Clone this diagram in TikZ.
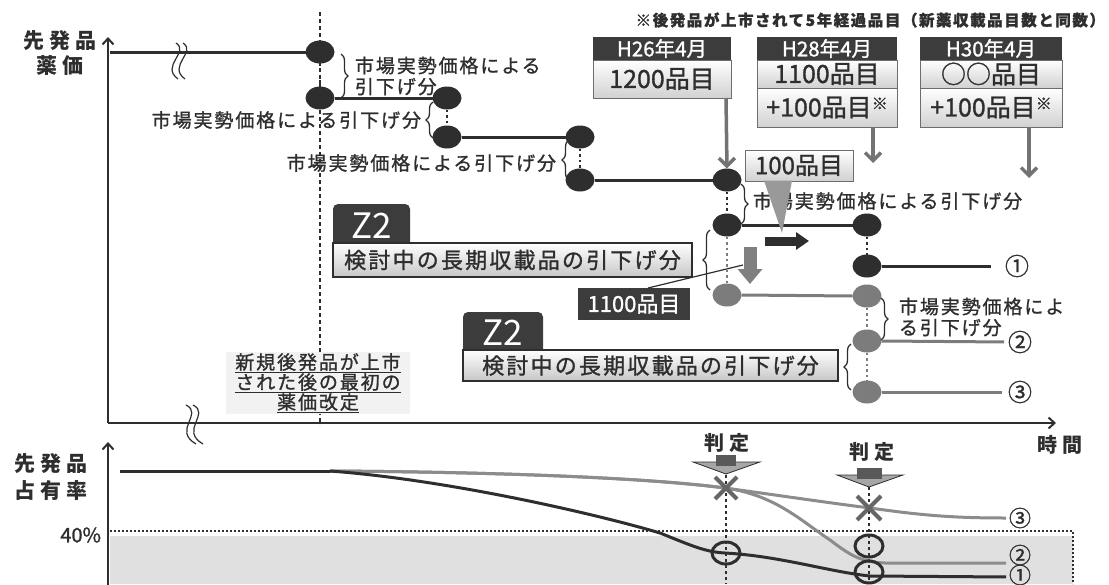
\documentclass[tikz,border=0pt]{standalone}
\usepackage{fontspec}
\setmainfont{Noto Sans CJK JP}
\newfontfamily\spc{Noto Sans CJK JP}[LetterSpace=25]
\newfontfamily\lsp{Noto Sans CJK JP}[LetterSpace=10,FakeBold=1.2]
\newfontfamily\fb{Noto Sans CJK JP}[FakeBold=1.2]
\usetikzlibrary{arrows.meta,decorations.pathreplacing,shapes.geometric,calc}
\definecolor{dk}{HTML}{2E2E2E}
\definecolor{gr}{HTML}{7C7C7C}
\definecolor{hd}{HTML}{3C3C3C}
\newcommand\fsz[1]{\fontsize{#1}{#1}\selectfont}
\begin{document}
\begin{tikzpicture}[x=1pt,y=-1pt,
 every node/.style={inner sep=0pt,outer sep=0pt,text=dk},
 ddot/.style={ellipse,minimum width=29pt,minimum height=23pt,fill=dk},
 gdot/.style={ellipse,minimum width=29pt,minimum height=23pt,fill=gr},
 pline/.style={line width=3pt,draw=dk},
 gline/.style={line width=3pt,draw=gr},
 vdots/.style={line width=2.5pt,draw=dk,dash pattern=on 2.5pt off 3pt},
 gvdots/.style={line width=2.5pt,draw=gr,dash pattern=on 2.5pt off 3pt},
 brc/.style={decorate,decoration={brace,amplitude=7pt},line width=1.3pt,draw=dk},
 lbl/.style={font=\lsp\fontsize{19}{21}\selectfont},
 hdr/.style={fill=hd,text=white,font=\fb\fsz{20.5},minimum height=23pt},
 bbox/.style={draw=dk!70,line width=0.8pt,top color=white,bottom color=black!18,font=\fb\fsz{25}},
 garrow/.style={line width=3.5pt,draw=black!55,-{Straight Barb[length=8pt,width=16pt]}},
 ztab/.style={fill=hd,text=white,rounded corners=5pt,font=\fsz{35}},
 zbox/.style={draw=dk,line width=1.2pt,top color=white,bottom color=black!22,font=\lsp\fsz{22}},
 ax/.style={line width=2pt,draw=dk,-{Straight Barb[length=6pt,width=11pt]}},
 brk/.style={line width=1.2pt,draw=dk},
 circ/.style={font=\fb\fsz{24}},
 judge/.style={font=\spc\bfseries\fsz{20}},
]
\useasboundingbox (0,0) rectangle (1109,584);

% ---------- lower chart background ----------
\fill[black!12] (110,536) rectangle (1073,584);
\draw[dk,line width=2pt,dash pattern=on 2pt off 2pt] (110,531) -- (1073,531) -- (1073,584);

% ---------- axes ----------
\coordinate (O) at (108,423);
\coordinate (Ytop) at (108,37);
\coordinate (Xend) at (1056,423);
\coordinate (O2) at (108,586);
\coordinate (Y2top) at (108,442);
\draw[ax] (O) -- (Ytop);
\draw[ax] (O) -- (Xend);
\draw[ax] (O2) -- (Y2top);

% main dashed vertical
\coordinate (v0) at (320,12);
\coordinate (v1) at (320,425);
\draw[dk,line width=1.5pt,dash pattern=on 4pt off 3pt] (v0) -- (v1);

% axis labels
\node[font=\spc\bfseries\fontsize{21}{25}\selectfont,align=center] (ylab1) at (60,53) {先発品\\薬価};
\node[font=\spc\bfseries\fontsize{21}{27}\selectfont,align=center] (ylab2) at (51,477) {先発品\\占有率};
\node[font=\spc\bfseries\fsz{20}] (tlab) at (1060,445) {時間};
\node[font=\fb\fsz{20},anchor=east] (p40) at (101,535) {40\%};

% break marks
\draw[brk] (176,43) .. controls (190,52) and (160,66) .. (178,79);
\draw[brk] (183,43) .. controls (197,52) and (167,66) .. (185,79);
\draw[brk] (186,405) .. controls (204,414) and (172,430) .. (196,444);
\draw[brk] (193,405) .. controls (211,414) and (179,430) .. (203,444);

% ---------- price dots ----------
\node[ddot] (d1) at (320,52) {};
\node[ddot] (d2) at (320,98) {};
\node[ddot] (d3) at (447,98) {};
\node[ddot] (d4) at (447,137) {};
\node[ddot] (d5) at (580,137) {};
\node[ddot] (d6) at (580,180) {};
\node[ddot] (d7) at (727,180) {};
\node[ddot] (d8) at (727,225) {};
\node[ddot] (d9) at (867,225) {};
\node[ddot] (d10) at (867,266) {};
\node[gdot] (d11) at (727,295) {};
\node[gdot] (d12) at (867,296) {};
\node[gdot] (d13) at (867,341) {};
\node[gdot] (d14) at (867,392) {};

\node[circ] (c1t) at (1017,266) {①};
\node[circ] (c2t) at (1020,342) {②};
\node[circ] (c3t) at (1020,392) {③};

\coordinate (t0) at (110,52);
\draw[pline] (t0) -- (d1.west);
\draw[vdots] (d1.south) -- (d2.north);
\draw[pline] (d2.east) -- (d3.west);
\draw[vdots] (d3.south) -- (d4.north);
\draw[pline] (d4.east) -- (d5.west);
\draw[vdots] (d5.south) -- (d6.north);
\draw[pline] (d6.east) -- (d7.west);
\draw[vdots] (d7.south) -- (d8.north);
\draw[pline] (d8.east) -- (d9.west);
\draw[vdots] (d9.south) -- (d10.north);
\draw[pline,shorten >=14pt] (d10.east) -- (c1t.west);
\draw[gvdots] (d8.south) -- (d11.north);
\draw[gline] (d11.east) -- (d12.west);
\draw[gvdots] (d12.south) -- (d13.north);
\draw[gvdots] (d13.south) -- (d14.north);
\draw[gline,shorten >=4pt] (d13.east) -- (c2t.west);
\draw[gline,shorten >=6pt] (d14.east) -- (c3t.west);

% braces and labels
\draw[brc] (341,54) -- (341,98);
\node[lbl,anchor=west,align=left] (m1) at (355,76) {市場実勢価格による\\引下げ分};
\draw[brc] (433,138) -- (433,102);
\node[lbl,anchor=east] (m2) at (421,120) {市場実勢価格による引下げ分};
\draw[brc] (569,180) -- (569,140);
\node[lbl,anchor=east] (m3) at (556,163) {市場実勢価格による引下げ分};
\draw[brc] (741,184) -- (741,224);
\node[lbl,anchor=west] (m4) at (753,201) {市場実勢価格による引下げ分};
\draw[brc] (710,290) -- (710,230);
\draw[brc] (881,298) -- (881,340);
\node[lbl,anchor=west,align=left] (m5) at (899,317) {市場実勢価格によ\\る引下げ分};
\draw[brc] (851,390) -- (851,344);

% ---------- top boxes ----------
\node[font=\lsp\bfseries\fsz{15.5},anchor=east] (note) at (1105,20) {※後発品が上市されて5年経過品目（新薬収載品目数と同数）};
\node[hdr,minimum width=138pt] (h26) at (662,48.5) {H26年4月};
\node[bbox,minimum width=138pt,minimum height=38pt] (b26) at (662,79) {1200品目};
\node[hdr,minimum width=140pt] (h28) at (827,48.5) {H28年4月};
\node[bbox,minimum width=140pt,minimum height=28pt] (b28a) at (827,74) {1100品目};
\node[bbox,minimum width=140pt,minimum height=39pt] (b28b) at (827,107.5) {+100品目\raisebox{7pt}{\fsz{16}※}};
\node[hdr,minimum width=142pt] (h30) at (991,48.5) {H30年4月};
\node[bbox,minimum width=142pt,minimum height=28pt] (b30a) at (991,74) {○○品目};
\node[bbox,minimum width=142pt,minimum height=39pt] (b30b) at (991,107.5) {+100品目\raisebox{7pt}{\fsz{16}※}};

\draw[garrow] ($(b26.south east)+(-5,0)$) -- (d7.north);
\draw[garrow] ($(b28b.south)+(46,0)$) -- ++(0,36);
\draw[garrow] ($(b30b.south)+(38,0)$) -- ++(0,51);

% ---------- 100 / 1100 callouts ----------
\node[bbox,font=\fb\fsz{24},minimum width=108pt,minimum height=31pt] (b100) at (799,165.5) {100品目};
\fill[black!40] (764,180.6) -- (792,180.6) -- (782,233) -- cycle;
\coordinate (ra0) at (765,241);
\coordinate (ra1) at (809,241);
\draw[line width=9pt,draw=dk,-{Triangle[length=13pt,width=17pt]}] (ra0) -- (ra1);
\coordinate (da0) at (750,247);
\coordinate (da1) at (750,284);
\draw[line width=13pt,draw=black!50,-{Triangle[length=15pt,width=24pt]}] (da0) -- (da1);
\node[fill=hd,text=white,font=\fb\fsz{22},minimum width=112pt,minimum height=32pt] (b1100) at (634,304) {1100品目};
\coordinate (cl) at (743,265);
\draw[dk,line width=1.2pt] ($(b1100.north)+(14,0)$) -- (cl);

% ---------- Z2 boxes ----------
\node[ztab,minimum width=77pt,minimum height=44pt] (z2a) at (371.5,226) {Z2};
\node[zbox,minimum width=359pt,minimum height=34pt,anchor=north west] (k1) at (333,243) {検討中の長期収載品の引下げ分};
\node[ztab,minimum width=80pt,minimum height=42pt] (z2b) at (503,333) {Z2};
\node[zbox,minimum width=375pt,minimum height=31pt,anchor=north west] (k2) at (463,350) {検討中の長期収載品の引下げ分};

% first revision note
\fill[black!5] (226,352) rectangle (410,414);
\node[font=\lsp\fontsize{19}{20}\selectfont,align=center] (newtxt) at (318,383) {\underline{新規後発品が上市}\\\underline{された後の最初の}\\\underline{薬価改定}};

% ---------- share curves ----------
\node[circ,font=\fb\fsz{22}] (c3b) at (1020,518) {③};
\node[circ,font=\fb\fsz{22}] (c2b) at (1020,555) {②};
\node[circ,font=\fb\fsz{22}] (c1b) at (1020,575) {①};
\coordinate (s0) at (120,471);
\coordinate (s1) at (330,471);
\coordinate (jx1) at (726,475);
\coordinate (jy1) at (726,584);
\coordinate (jx2) at (869,487);
\coordinate (jy2) at (869,584);
\draw[dk,line width=1.5pt,dash pattern=on 3pt off 3pt] (jx1) -- (jy1);
\draw[dk,line width=1.5pt,dash pattern=on 3pt off 3pt] (jx2) -- (jy2);
\draw[line width=3pt,draw=black!45,shorten >=3pt] (s1) .. controls (500,472) and (650,478) .. (725,488) .. controls (790,497) and (830,503) .. (870,508) .. controls (920,515) and (950,518) .. (c3b.west);
\draw[line width=3pt,draw=black!45,shorten >=3pt] (s1) .. controls (500,472) and (650,478) .. (725,488) .. controls (775,495) and (800,520) .. (830,540) .. controls (850,555) and (860,562) .. (885,563) -- ($(c2b.west)+(0,8)$);
\draw[line width=3pt,draw=dk,shorten >=3pt] (s1) .. controls (450,480) and (600,515) .. (660,533) .. controls (690,545) and (705,552) .. (725,553) .. controls (780,556) and (830,572) .. (870,576) -- ($(c1b.west)+(0,2)$);
\draw[line width=3pt,draw=dk] (s0) -- (s1);

% circles
\draw[line width=3pt,draw=dk] (726,553) ellipse (14 and 11);
\draw[line width=3pt,draw=dk] (869,546) ellipse (14 and 11);
\draw[line width=3pt,draw=dk] (869,572) ellipse (14 and 11);
% crosses
\draw[line width=4pt,draw=black!60] (715,477) -- (737,499) (715,499) -- (737,477);
\draw[line width=4pt,draw=black!60] (857,496) -- (881,520) (857,520) -- (881,496);

% judge markers
\node[judge] (j1) at (727,443) {判定};
\node[judge] (j2) at (872,452) {判定};
\draw[dk,line width=0.8pt,fill=black!35] (693,462) -- (760,462) -- (726,474) -- cycle;
\fill[black!65] (716,455) rectangle (736,466);
\draw[dk,line width=0.8pt,fill=black!35] (837,475) -- (903,475) -- (869,487) -- cycle;
\fill[black!65] (857,468) rectangle (882,479);
\end{tikzpicture}
\end{document}
